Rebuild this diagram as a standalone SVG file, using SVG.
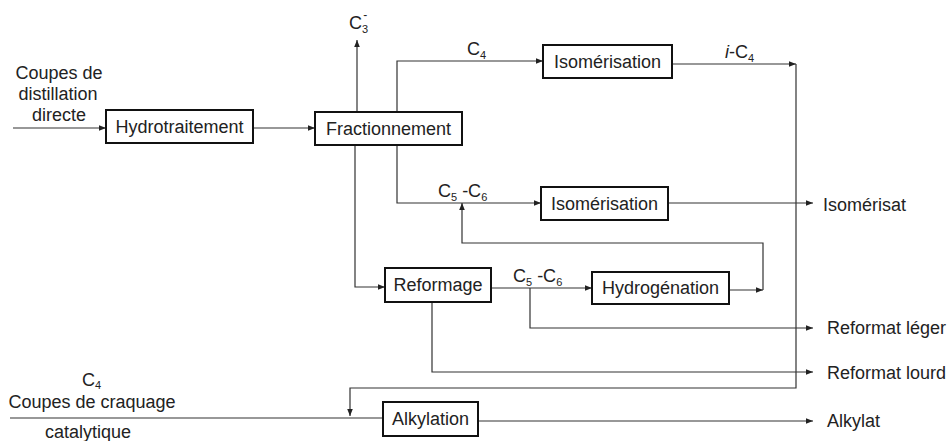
<svg xmlns="http://www.w3.org/2000/svg" width="947" height="441" viewBox="0 0 947 441">
<defs>
<marker id="ah" viewBox="0 0 10 10" refX="10" refY="5" markerWidth="7" markerHeight="7" markerUnits="userSpaceOnUse" orient="auto">
<path d="M0,1 L10,5 L0,9 Z" fill="#222"/>
</marker>
<style>
.box{fill:#fff;stroke:#111;stroke-width:2}
.lbl{font-family:"Liberation Sans",Arial,sans-serif;font-size:18px;fill:#222}
.c{text-anchor:middle}
.ln{fill:none;stroke:#333;stroke-width:1.2}
.ar{marker-end:url(#ah)}
</style>
</defs>
<rect width="947" height="441" fill="#fff"/>
<g id="connectors">
<path class="ln ar" d="M13,128 H106"/>
<path class="ln ar" d="M253,128 H315"/>
<path class="ln ar" d="M357,112 V40"/>
<path class="ln ar" d="M397,112 V61 H543"/>
<path class="ln ar" d="M672,64 H796"/>
<path class="ln ar" d="M796,64 V388 H350 V416"/>
<path class="ln ar" d="M397,145 V203 H541"/>
<path class="ln ar" d="M668,203 H813"/>
<path class="ln ar" d="M729,290 H763"/>
<path class="ln ar" d="M763,290 V243 H462 V203"/>
<path class="ln ar" d="M355,145 V287 H385"/>
<path class="ln ar" d="M491,288 H592"/>
<path class="ln ar" d="M530,288 V328 H813"/>
<path class="ln ar" d="M432,302 V372 H813"/>
<path class="ln" d="M10,418 H383"/>
<path class="ln ar" d="M478,421 H813"/>
</g>
<g id="hydrotraitement">
<rect class="box" x="106" y="110" width="147" height="33"/>
<text class="lbl c" x="179.5" y="133">Hydrotraitement</text>
</g>
<g id="fractionnement">
<rect class="box" x="315" y="112" width="147" height="33"/>
<text class="lbl c" x="388.5" y="135">Fractionnement</text>
</g>
<g id="isomerisation1">
<rect class="box" x="543" y="45" width="129" height="33"/>
<text class="lbl c" x="607.5" y="68">Isomérisation</text>
</g>
<g id="isomerisation2">
<rect class="box" x="541" y="187" width="127" height="33"/>
<text class="lbl c" x="604.5" y="210">Isomérisation</text>
</g>
<g id="reformage">
<rect class="box" x="385" y="268" width="106" height="34"/>
<text class="lbl c" x="438" y="291">Reformage</text>
</g>
<g id="hydrogenation">
<rect class="box" x="592" y="272" width="137" height="32"/>
<text class="lbl c" x="660.5" y="294">Hydrogénation</text>
</g>
<g id="alkylation">
<rect class="box" x="383" y="402" width="95" height="34"/>
<text class="lbl c" x="430.5" y="425">Alkylation</text>
</g>
<g id="labels">
<text class="lbl c" x="59" y="79">Coupes de</text>
<text class="lbl c" x="58" y="100">distillation</text>
<text class="lbl c" x="59" y="121">directe</text>
<text class="lbl" x="349" y="29">C<tspan font-size="11" dy="4">3</tspan><tspan font-size="12" dx="-5" dy="-14">-</tspan></text>
<text class="lbl" x="467" y="55">C<tspan font-size="11" dy="4">4</tspan></text>
<text class="lbl" x="725" y="58"><tspan font-style="italic">i</tspan>-C<tspan font-size="11" dy="4">4</tspan></text>
<text class="lbl" x="438" y="197">C<tspan font-size="11" dy="4">5</tspan><tspan dy="-4"> -C</tspan><tspan font-size="11" dy="4">6</tspan></text>
<text class="lbl" x="513" y="282">C<tspan font-size="11" dy="4">5</tspan><tspan dy="-4"> -C</tspan><tspan font-size="11" dy="4">6</tspan></text>
<text class="lbl" x="823" y="211">Isomérisat</text>
<text class="lbl" x="827" y="334">Reformat léger</text>
<text class="lbl" x="827" y="379">Reformat lourd</text>
<text class="lbl" x="827" y="427">Alkylat</text>
<text class="lbl" x="82" y="386">C<tspan font-size="11" dy="3">4</tspan></text>
<text class="lbl c" x="92" y="408">Coupes de craquage</text>
<text class="lbl c" x="88" y="438">catalytique</text>
</g>
</svg>
